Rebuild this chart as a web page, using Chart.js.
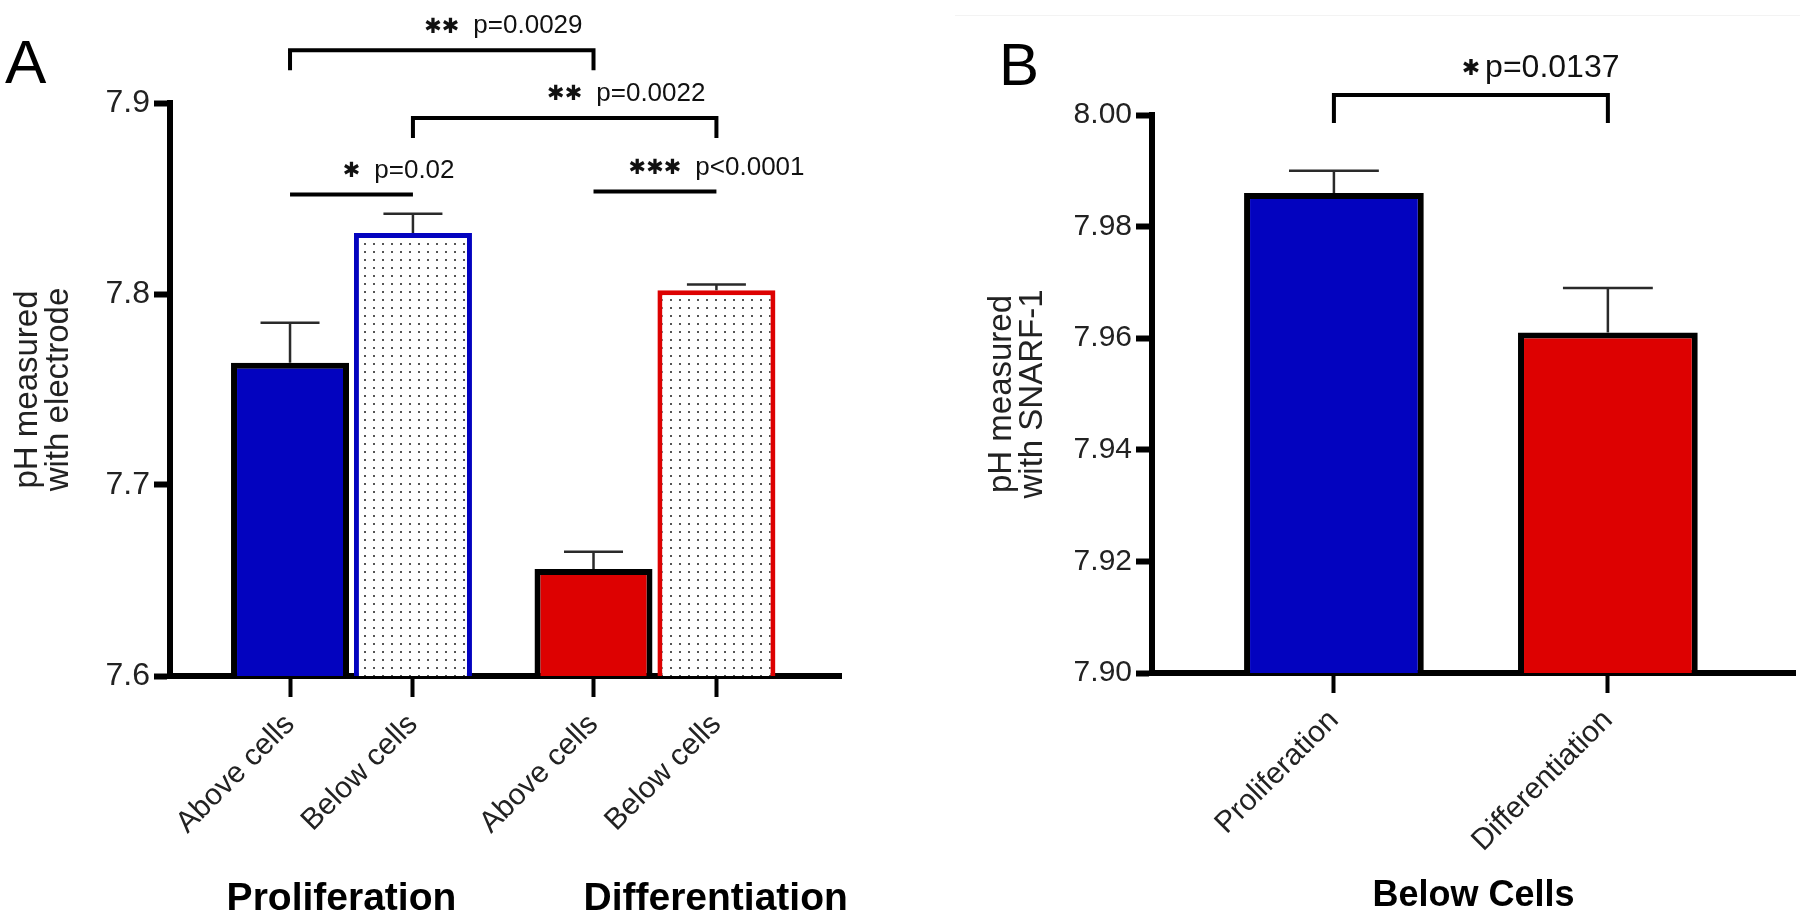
<!DOCTYPE html>
<html>
<head>
<meta charset="utf-8">
<script src="https://cdn.jsdelivr.net/npm/chart.js@4.4.1/dist/chart.umd.min.js"></script>
<style>
  body { margin: 0; background: #fff; }
  #wrap { position: relative; width: 1800px; height: 914px; overflow: hidden; }
  canvas { position: absolute; top: 0; }
  #chartA { left: 0; }
  #chartB { left: 900px; }
  .panel { position: absolute; font-family: "Liberation Sans", Arial, sans-serif; line-height: 1; color: #000; }
  .rule { position: absolute; left: 955px; top: 15px; width: 845px; height: 1px; background: #f3f3f3; }
</style>
</head>
<body>
<div id="wrap">
  <canvas id="chartA" width="900" height="914"></canvas>
  <canvas id="chartB" width="900" height="914"></canvas>
  <div class="rule"></div>
  <div class="panel" style="left:5px; top:31px; font-size:62px;">A</div>
  <div class="panel" style="left:999px; top:35px; font-size:60px;">B</div>
</div>
<script>
// * Panel A - electrode
const groupsA = ["Proliferation", "Differentiation"];
const positionsA = ["Above cells", "Below cells"];
const aboveMeans = [7.764, 7.656];
const aboveSem = [0.021, 0.009];
const belowMeans = [7.832, 7.802];
const belowSem = [0.010, 0.003];
const yTicksA = [7.6, 7.7, 7.8, 7.9];

// * Panel B - SNARF-1, below cells
const groupsB = ["Proliferation", "Differentiation"];
const snarfMeans = [7.986, 7.961];
const snarfSem = [0.004, 0.008];
const yTicksB = [7.90, 7.92, 7.94, 7.96, 7.98, 8.00];

// * Significance brackets (bar index from -> to, height in pH units)
const bracketsA = [
    { from: 0, to: 2, level: 7.9276, legs: true, stars: "✱✱", p: "p=0.0029" },
    { from: 1, to: 3, level: 7.8922, legs: true, stars: "✱✱", p: "p=0.0022" },
    { from: 0, to: 1, level: 7.8521, legs: false, stars: "✱", p: "p=0.02" },
    { from: 2, to: 3, level: 7.8536, legs: false, stars: "✱✱✱", p: "p<0.0001" },
];
const bracketsB = [
    { from: 0, to: 1, level: 8.0036, legs: true, stars: "✱", p: "p=0.0137" },
];

const BLUE = "#0303bf";
const RED = "#dd0101";
const FONT = "'Liberation Sans', Arial, sans-serif";
Chart.defaults.font.family = FONT;

// dotted fill used for the "Below cells" bars
function dotPattern(ctx) {
    const c = document.createElement("canvas");
    c.width = 9;
    c.height = 8;
    const g = c.getContext("2d");
    g.fillStyle = "#fff";
    g.fillRect(0, 0, 9, 8);
    g.fillStyle = "#555";
    g.fillRect(4, 3, 2, 2);
    return ctx.createPattern(c, "repeat");
}

// one-sided (upper) SEM bars
const errorBars = {
    id: "errorBars",
    afterDatasetsDraw(chart, args, opts) {
        const { ctx } = chart;
        const y = chart.scales.y;
        ctx.save();
        ctx.strokeStyle = opts.color;
        ctx.lineWidth = opts.width;
        chart.data.datasets.forEach((ds, di) => {
            chart.getDatasetMeta(di).data.forEach((bar, i) => {
                const top = y.getPixelForValue(ds.data[i].y + ds.errors[i]);
                const half = bar.width * 0.25;
                ctx.beginPath();
                ctx.moveTo(bar.x, bar.y);
                ctx.lineTo(bar.x, top);
                ctx.moveTo(bar.x - half, top);
                ctx.lineTo(bar.x + half, top);
                ctx.stroke();
            });
        });
        ctx.restore();
    },
};

const brackets = {
    id: "brackets",
    afterDraw(chart, args, opts) {
        const { ctx } = chart;
        const y = chart.scales.y;
        const xs = opts.order.map(([di, i]) => chart.getDatasetMeta(di).data[i].x);
        ctx.save();
        ctx.strokeStyle = "#000";
        ctx.fillStyle = "#111";
        ctx.lineWidth = 4;
        ctx.lineCap = "butt";
        ctx.lineJoin = "miter";
        opts.items.forEach((b) => {
            const x1 = xs[b.from];
            const x2 = xs[b.to];
            const yy = y.getPixelForValue(b.level);
            ctx.beginPath();
            if (b.legs) {
                ctx.moveTo(x1, yy + opts.leg);
                ctx.lineTo(x1, yy);
                ctx.lineTo(x2, yy);
                ctx.lineTo(x2, yy + opts.leg);
            } else {
                ctx.moveTo(x1, yy);
                ctx.lineTo(x2, yy);
            }
            ctx.stroke();

            const cx = (x1 + x2) / 2;
            const ty = yy - opts.textGap;
            ctx.textBaseline = "middle";
            ctx.font = `${opts.starSize}px 'DejaVu Sans', sans-serif`;
            ctx.textAlign = "center";
            const sw = ctx.measureText(b.stars).width;
            ctx.fillText(b.stars, cx, ty + 1);
            ctx.font = `${opts.pSize}px ${FONT}`;
            ctx.textAlign = "left";
            ctx.fillText(b.p, cx + sw / 2 + opts.pGap, ty);
        });
        ctx.restore();
    },
};

// ---------------- Panel A ----------------
const catPct = 0.81;
const barOffset = catPct / 4; // centre of each bar inside its group, group units
const groupLabelNudge = [-0.033, 0.2]; // where the bold group names sit, group units
const xMinA = -0.598;
const xMaxA = 1.613;
const ctxA = document.getElementById("chartA").getContext("2d");
const dotsA = dotPattern(ctxA);

new Chart(ctxA, {
    type: "bar",
    data: {
        datasets: [
            {
                label: positionsA[0],
                data: aboveMeans.map((v, i) => ({ x: i, y: v })),
                errors: aboveSem,
                backgroundColor: [BLUE, RED],
                borderColor: "#000",
                borderWidth: 6,
            },
            {
                label: positionsA[1],
                data: belowMeans.map((v, i) => ({ x: i, y: v })),
                errors: belowSem,
                backgroundColor: dotsA,
                borderColor: [BLUE, RED],
                borderWidth: 5,
            },
        ],
    },
    options: {
        responsive: false,
        animation: false,
        layout: { padding: { top: 103, right: 59, bottom: 0, left: 0 } },
        datasets: { bar: { categoryPercentage: catPct, barPercentage: 0.96, borderSkipped: false } },
        plugins: {
            legend: { display: false },
            tooltip: { enabled: false },
            errorBars: { color: "#2a2a2a", width: 2.5 },
            brackets: {
                order: [[0, 0], [1, 0], [0, 1], [1, 1]],
                items: bracketsA,
                leg: 20,
                textGap: 24,
                starSize: 21,
                pSize: 26,
                pGap: 14,
            },
        },
        scales: {
            x: {
                type: "linear",
                position: "bottom",
                weight: 1,
                offset: false,
                min: xMinA,
                max: xMaxA,
                afterBuildTicks: (s) => { s.ticks = groupsA.map((g, i) => ({ value: i + groupLabelNudge[i] })); },
                afterFit: (s) => { s.height = 46; },
                border: { display: false },
                grid: { display: false, offset: false },
                ticks: {
                    autoSkip: false,
                    maxRotation: 0,
                    padding: 0,
                    color: "#000",
                    font: { size: 39, weight: "bold" },
                    callback: (v, i) => groupsA[i],
                },
            },
            xb: {
                type: "linear",
                position: "bottom",
                weight: 0,
                offset: false,
                min: xMinA,
                max: xMaxA,
                afterBuildTicks: (s) => {
                    s.ticks = groupsA.flatMap((g, i) => [i - barOffset, i + barOffset]).map((v) => ({ value: v }));
                },
                afterFit: (s) => { s.height = 192; },
                border: { color: "#000", width: 6 },
                grid: { drawOnChartArea: false, offset: false, color: "#000", tickLength: 21, tickWidth: 4 },
                ticks: {
                    autoSkip: false,
                    minRotation: 45,
                    maxRotation: 45,
                    padding: 10,
                    color: "#222",
                    font: { size: 30 },
                    callback: (v, i) => positionsA[i % 2],
                },
            },
            y: {
                min: yTicksA[0],
                max: yTicksA[yTicksA.length - 1],
                afterBuildTicks: (s) => { s.ticks = yTicksA.map((v) => ({ value: v })); },
                afterFit: (s) => { s.width = 170; },
                border: { color: "#000", width: 6 },
                grid: { drawOnChartArea: false, color: "#000", tickLength: 16, tickWidth: 6 },
                ticks: { padding: 4, color: "#222", font: { size: 32 }, callback: (v) => v.toFixed(1) },
                title: {
                    display: true,
                    text: ["pH measured", "with electrode"],
                    color: "#222",
                    font: { size: 33, lineHeight: 0.95 },
                    padding: { top: 12, bottom: 0 },
                },
            },
        },
    },
    plugins: [errorBars, brackets],
});

// ---------------- Panel B ----------------
const ctxB = document.getElementById("chartB").getContext("2d");

new Chart(ctxB, {
    type: "bar",
    data: {
        datasets: [
            {
                label: "Below cells",
                data: snarfMeans.map((v, i) => ({ x: i, y: v })),
                errors: snarfSem,
                backgroundColor: [BLUE, RED],
                borderColor: "#000",
                borderWidth: 6,
            },
        ],
    },
    options: {
        responsive: false,
        animation: false,
        layout: { padding: { top: 115, right: 5, bottom: 0, left: 0 } },
        datasets: { bar: { categoryPercentage: 1, barPercentage: 0.656, borderSkipped: false } },
        plugins: {
            legend: { display: false },
            tooltip: { enabled: false },
            errorBars: { color: "#2a2a2a", width: 2.5 },
            brackets: {
                order: [[0, 0], [0, 1]],
                items: bracketsB,
                leg: 28,
                textGap: 27,
                starSize: 22,
                pSize: 32,
                pGap: 5,
            },
        },
        scales: {
            x: {
                type: "linear",
                position: "bottom",
                offset: false,
                min: -0.664,
                max: 1.683,
                afterBuildTicks: (s) => { s.ticks = groupsB.map((g, i) => ({ value: i })); },
                afterFit: (s) => { s.height = 241; },
                border: { color: "#000", width: 6 },
                grid: { drawOnChartArea: false, offset: false, color: "#000", tickLength: 20, tickWidth: 4 },
                ticks: {
                    autoSkip: false,
                    minRotation: 45,
                    maxRotation: 45,
                    padding: 10,
                    color: "#222",
                    font: { size: 30 },
                    callback: (v, i) => groupsB[i],
                },
                title: {
                    display: true,
                    text: "Below Cells",
                    color: "#000",
                    font: { size: 36, weight: "bold", lineHeight: 1.0 },
                    padding: { top: 0, bottom: 0 },
                },
            },
            y: {
                min: yTicksB[0],
                max: yTicksB[yTicksB.length - 1],
                afterBuildTicks: (s) => { s.ticks = yTicksB.map((v) => ({ value: v })); },
                afterFit: (s) => { s.width = 252; },
                border: { color: "#000", width: 6 },
                grid: { drawOnChartArea: false, color: "#000", tickLength: 16, tickWidth: 6 },
                ticks: { padding: 4, color: "#222", font: { size: 30 }, callback: (v) => v.toFixed(2) },
                title: {
                    display: true,
                    text: ["pH measured", "with SNARF-1"],
                    color: "#222",
                    font: { size: 33, lineHeight: 0.95 },
                    padding: { top: 86, bottom: 0 },
                },
            },
        },
    },
    plugins: [errorBars, brackets],
});
</script>
</body>
</html>
